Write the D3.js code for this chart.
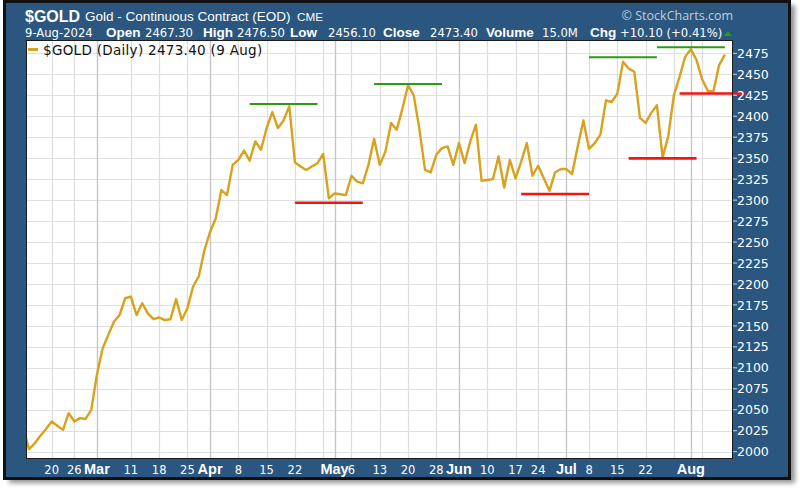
<!DOCTYPE html>
<html><head><meta charset="utf-8">
<script src="https://cdn.jsdelivr.net/npm/d3@7"></script>
<style>html,body{margin:0;padding:0;background:#fff;} svg{display:block}</style>
</head><body>
<svg id="chart" width="800" height="491"></svg>
<script>
// ---- DATA ----
const dates = [
"02-12","02-13","02-14","02-15","02-16","02-20","02-21","02-22","02-23","02-26","02-27","02-28","02-29",
"03-01","03-04","03-05","03-06","03-07","03-08","03-11","03-12","03-13","03-14","03-15","03-18","03-19","03-20","03-21","03-22","03-25","03-26","03-27","03-28",
"04-01","04-02","04-03","04-04","04-05","04-08","04-09","04-10","04-11","04-12","04-15","04-16","04-17","04-18","04-19","04-22","04-23","04-24","04-25","04-26","04-29","04-30",
"05-01","05-02","05-03","05-06","05-07","05-08","05-09","05-10","05-13","05-14","05-15","05-16","05-17","05-20","05-21","05-22","05-23","05-24","05-28","05-29","05-30","05-31",
"06-03","06-04","06-05","06-06","06-07","06-10","06-11","06-12","06-13","06-14","06-17","06-18","06-20","06-21","06-24","06-25","06-26","06-27","06-28",
"07-01","07-02","07-03","07-05","07-08","07-09","07-10","07-11","07-12","07-15","07-16","07-17","07-18","07-19","07-22","07-23","07-24","07-25","07-26","07-29","07-30","07-31",
"08-01","08-02","08-05","08-06","08-07","08-08","08-09"];
const closes = [
2027,2003,2010,2019,2027,2036,2031,2026,2046,2036,2040,2039,2050,
2092,2123,2139,2155,2163,2183,2185,2163,2177,2165,2158,2160,2157,2158,2182,2157,2171,2197,2209,2240,
2262,2278,2312,2306,2342,2348,2359,2347,2370,2360,2386,2405,2386,2395,2412,2345,2340,2336,2340,2344,2355,2302,
2308,2307,2306,2329,2322,2320,2342,2373,2342,2358,2392,2384,2409,2437,2425,2385,2336,2333,2354,2362,2364,2342,
2368,2344,2370,2390,2323,2324,2325,2352,2315,2348,2326,2346,2368,2329,2341,2326,2311,2333,2337,
2337,2331,2364,2395,2361,2368,2378,2419,2417,2427,2465,2457,2453,2398,2392,2404,2413,2351,2376,2425,2447,2471,
2480,2467,2444,2430,2430,2461,2473.4];
const weekGridDates = ["02-20","02-26","03-11","03-18","03-25","04-08","04-15","04-22","04-29","05-06","05-13","05-20","05-28","06-10","06-17","06-24","07-08","07-15","07-22","07-29","08-05"];
const monthGridDates = ["03-01","04-01","05-01","06-03","07-01","08-01"];
const xLabelDates = ["02-20","02-26","03-01","03-11","03-18","03-25","04-01","04-08","04-15","04-22","05-01","05-06","05-13","05-20","05-28","06-03","06-10","06-17","06-24","07-01","07-08","07-15","07-22","08-01"];
const xLabelTexts = ["20","26","Mar","11","18","25","Apr","8","15","22","May","6","13","20","28","Jun","10","17","24","Jul","8","15","22","Aug"];
const yTicks = [2000,2025,2050,2075,2100,2125,2150,2175,2200,2225,2250,2275,2300,2325,2350,2375,2400,2425,2450,2475];
// horizontal support / resistance marks: start date, length in trading days, level
const levelStarts = ["04-10","04-22","05-10","06-18","07-08","07-17","07-24","07-30"];
const levelDays   = [12,12,12,12,12,12,12,11.6];
const levelValues = [2414.6,2296.9,2438.4,2307.3,2470.2,2349.8,2482.2,2427.1];
const levelKinds  = ["high","low","high","low","high","low","high","low"];

// ---- LAYOUT ----
const svg = d3.select("#chart");
const plot = {l:26, t:40, r:733, b:459};
const x = d3.scaleLinear().domain([0, dates.length-1]).range([23.4, 724.8]);
const xd = d => x(dates.indexOf(d));
const y = d3.scaleLinear().domain([1991.3, 2490.9]).range([plot.b, plot.t]);

const defs = svg.append("defs");
const f = defs.append("filter").attr("id","sh").attr("x","-5%").attr("y","-5%").attr("width","110%").attr("height","110%");
f.append("feGaussianBlur").attr("stdDeviation",2.5);
defs.append("clipPath").attr("id","clip").append("rect")
  .attr("x",plot.l).attr("y",plot.t).attr("width",plot.r-plot.l).attr("height",plot.b-plot.t);

// frame + shadow
svg.append("rect").attr("x",9).attr("y",5).attr("width",786).attr("height",478).attr("fill","#777").attr("opacity",0.8).attr("filter","url(#sh)");
svg.append("rect").attr("x",3).attr("y",0).attr("width",788).attr("height",480).attr("fill","#111");
svg.append("rect").attr("x",6).attr("y",3).attr("width",782).attr("height",474).attr("fill","#2a5680");

// plot bg
svg.append("rect").attr("x",plot.l).attr("y",plot.t).attr("width",plot.r-plot.l).attr("height",plot.b-plot.t).attr("fill","#fff");

// grid
const g = svg.append("g");
g.selectAll(".hg").data(yTicks).join("line")
  .attr("x1",plot.l).attr("x2",plot.r).attr("y1",d=>Math.round(y(d))+0.5).attr("y2",d=>Math.round(y(d))+0.5)
  .attr("stroke","#e0e0e0").attr("stroke-width",1.2);
g.selectAll(".wg").data(weekGridDates).join("line")
  .attr("x1",d=>Math.round(xd(d))+0.5).attr("x2",d=>Math.round(xd(d))+0.5).attr("y1",plot.t).attr("y2",plot.b)
  .attr("stroke","#dddddd").attr("stroke-width",1.2);
g.selectAll(".mg").data(monthGridDates).join("line")
  .attr("x1",d=>Math.round(xd(d))+0.5).attr("x2",d=>Math.round(xd(d))+0.5).attr("y1",plot.t).attr("y2",plot.b)
  .attr("stroke","#c6c6c6").attr("stroke-width",1.4);

// price line
const line = d3.line().x((d,i)=>x(i)).y(d=>y(d));
svg.append("path").datum(closes).attr("d",line).attr("clip-path","url(#clip)")
  .attr("fill","none").attr("stroke","#d9a11c").attr("stroke-width",2.4).attr("stroke-linejoin","round");

// level marks
const levels = levelStarts.map((s,i)=>({s:dates.indexOf(s), n:levelDays[i], v:levelValues[i], k:levelKinds[i]}));
svg.selectAll(".lvl").data(levels).join("line")
  .attr("x1",d=>x(d.s)).attr("x2",d=>x(d.s+d.n)).attr("y1",d=>y(d.v)).attr("y2",d=>y(d.v))
  .attr("stroke",d=>d.k==="high"?"#2e9a12":"#f51414").attr("stroke-width",d=>d.k==="high"?2:2.6);

// plot border
svg.append("rect").attr("x",plot.l+0.5).attr("y",plot.t+0.5).attr("width",plot.r-plot.l-1).attr("height",plot.b-plot.t-1)
  .attr("fill","none").attr("stroke","#1b1b1b").attr("stroke-width",1);

// y axis
const ya = svg.append("g");
ya.selectAll("line").data(yTicks).join("line")
  .attr("x1",plot.r).attr("x2",plot.r+4).attr("y1",d=>y(d)).attr("y2",d=>y(d)).attr("stroke","#cfd8e2").attr("stroke-width",1);
ya.selectAll("text").data(yTicks).join("text")
  .attr("x",plot.r+4).attr("y",d=>y(d)+4.6).text(d=>d)
  .attr("fill","#fff").attr("font-family","DejaVu Sans").attr("font-size","12.5px");

// x axis labels
const xa = svg.append("g");
xa.selectAll("text").data(xLabelDates).join("text")
  .attr("x",d=>xd(d)).attr("y",473.5).attr("text-anchor","middle")
  .text((d,i)=>xLabelTexts[i])
  .attr("fill","#fff")
  .attr("font-family",(d,i)=>/^[A-Z]/.test(xLabelTexts[i])?"Liberation Sans":"DejaVu Sans")
  .attr("font-weight",(d,i)=>/^[A-Z]/.test(xLabelTexts[i])?"bold":"normal")
  .attr("font-size",(d,i)=>/^[A-Z]/.test(xLabelTexts[i])?"14.5px":"11.5px");

// header
const hdr = svg.append("g").attr("fill","#fff");
hdr.append("text").attr("x",25).attr("y",21.5).attr("font-family","Liberation Sans").attr("font-weight","bold").attr("font-size","16px").text("$GOLD");
hdr.append("text").attr("x",85).attr("y",21).attr("font-family","Liberation Sans").attr("font-size","13.5px").text("Gold - Continuous Contract (EOD)");
hdr.append("text").attr("x",297).attr("y",21).attr("font-family","Liberation Sans").attr("font-size","11.7px").text("CME");
svg.append("text").attr("x",733).attr("y",20).attr("text-anchor","end").attr("fill","#c3cdd8")
  .attr("font-family","Open Sans").attr("font-size","12.5px").text("© StockCharts.com");

const row2 = [
  {x:25,t:"9-Aug-2024",b:false},{x:106,t:"Open",b:true},{x:145,t:"2467.30",b:false},
  {x:203,t:"High",b:true},{x:237,t:"2476.50",b:false},{x:290,t:"Low",b:true},{x:328,t:"2456.10",b:false},
  {x:383,t:"Close",b:true},{x:430,t:"2473.40",b:false},{x:486,t:"Volume",b:true},{x:542,t:"15.0M",b:false},
  {x:590,t:"Chg",b:true},{x:620,t:"+10.10 (+0.41%)",b:false}];
hdr.selectAll(".r2").data(row2).join("text").attr("x",d=>d.x).attr("y",36.5).text(d=>d.t)
  .attr("font-family",d=>d.b?"Liberation Sans":"DejaVu Sans").attr("font-weight",d=>d.b?"bold":"normal")
  .attr("font-size",d=>d.b?"13.5px":"11.6px");
svg.append("path").attr("d","M724,36 L728,31 L732,36 Z").attr("fill","#2e9a12");

// legend
svg.append("line").attr("x1",28).attr("x2",38).attr("y1",49.5).attr("y2",49.5).attr("stroke","#d9a11c").attr("stroke-width",3);
svg.append("text").attr("x",43).attr("y",54.5).attr("fill","#111").attr("font-family","DejaVu Sans").attr("font-size","13.5px")
  .attr("letter-spacing","0.3px").text("$GOLD (Daily) 2473.40 (9 Aug)");
</script>
</body></html>
